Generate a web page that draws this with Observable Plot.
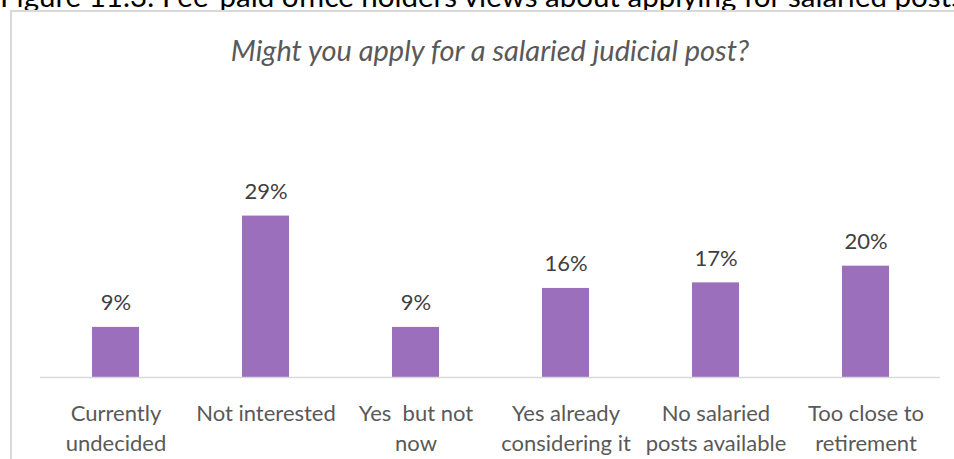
<!DOCTYPE html>
<html><head><meta charset="utf-8">
<script src="https://cdn.jsdelivr.net/npm/d3@7"></script>
<script src="https://cdn.jsdelivr.net/npm/@observablehq/plot@0.6"></script>
<style>
html,body{margin:0;padding:0;background:#fff;}
#wrap{position:relative;width:954px;height:459px;overflow:hidden;background:#fff;}
#title{position:absolute;left:0;top:-22px;white-space:nowrap;font-family:Lato;font-size:29.5px;line-height:1.2;color:#000;}
#box{position:absolute;left:10px;top:10px;width:1000px;height:500px;border:2px solid #d9d9d9;box-sizing:border-box;}
#subtitle{position:absolute;left:0;width:980px;text-align:center;top:33px;font-family:Lato;font-style:italic;font-size:29px;line-height:1.2;color:#595959;white-space:nowrap;}
#chart{position:absolute;left:0;top:150px;}
</style></head><body>
<div id="wrap">
<div id="title">Figure 11.3: Fee-paid office holders views about applying for salaried posts</div>
<div id="box"></div>
<div id="subtitle">Might you apply for a salaried judicial post?</div>
<div id="chart"></div>
</div>
<script>
const categories = ["Currently\nundecided", "Not interested", "Yes\u00a0 but not\nnow", "Yes already\nconsidering it", "No salaried\nposts available", "Too close to\nretirement"];
const values = [9, 29, 9, 16, 17, 20];
const valueLabels = ["9%", "29%", "9%", "16%", "17%", "20%"];
const data = categories.map((c, i) => ({category: c, value: values[i], label: valueLabels[i]}));

const chart = Plot.plot({
  width: 954, height: 309,
  marginLeft: 40, marginRight: 14, marginTop: 60, marginBottom: 82,
  style: {fontFamily: "Lato", background: "transparent"},
  x: {domain: categories, paddingInner: 0.69, paddingOuter: 0.345, label: null},
  y: {domain: [0, 30], axis: null},
  marks: [
    Plot.barY(data, {x: "category", y: "value", fill: "#9b6fbc"}),
    Plot.ruleY([0], {stroke: "#d9d9d9", strokeWidth: 1.5}),
    Plot.text(data, {x: "category", y: "value", text: "label", lineAnchor: "bottom", dy: -17, fontSize: 22, fill: "#404040"}),
    Plot.axisX({tickSize: 0, tickPadding: 23, fontSize: 22, lineHeight: 1.33, fill: "#595959", label: null})
  ]
});
document.getElementById("chart").appendChild(chart);
</script>
</body></html>
